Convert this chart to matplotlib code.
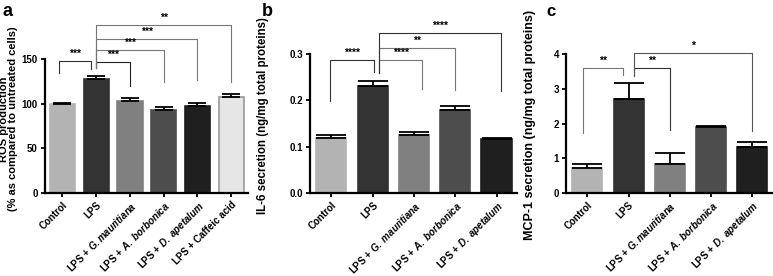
import numpy as np
import matplotlib
matplotlib.use("Agg")
import matplotlib.pyplot as plt

plt.rcParams['font.family'] = ['Liberation Sans', 'DejaVu Sans']
plt.rcParams['font.weight'] = 'bold'
plt.rcParams['mathtext.fontset'] = 'custom'
plt.rcParams['mathtext.rm'] = 'Liberation Sans:bold'
plt.rcParams['mathtext.it'] = 'Liberation Sans:bold:italic'

# --- data ---
labels_a = ["Control", "LPS", r"LPS + $\mathit{G.mauritiana}$", r"LPS + $\mathit{A.\ borbonica}$",
            r"LPS + $\mathit{D.\ apetalum}$", "LPS + Caffeic acid"]
ros_mean = [99.5, 128, 102.5, 93, 97, 107.5]
ros_err = [1.2, 2.5, 3.5, 3, 4, 3]

labels_b = ["Control", "LPS", r"LPS + $\mathit{G.\ mauritiana}$", r"LPS + $\mathit{A.\ borbonica}$",
            r"LPS + $\mathit{D.\ apetalum}$"]
il6_mean = [0.119, 0.231, 0.126, 0.180, 0.117]
il6_err = [0.005, 0.011, 0.005, 0.009, 0.002]

labels_c = ["Control", "LPS", r"LPS + $\mathit{G.mauritiana}$", r"LPS + $\mathit{A.\ borbonica}$",
            r"LPS + $\mathit{D.\ apetalum}$"]
mcp1_mean = [0.70, 2.70, 0.84, 1.89, 1.31]
mcp1_err = [0.13, 0.48, 0.31, 0.03, 0.16]

# significance: (group i, group j, stars)
sig_a = [(0, 1, "***"), (1, 2, "***"), (1, 3, "***"), (1, 4, "***"), (1, 5, "**")]
sig_b = [(0, 1, "****"), (1, 2, "****"), (1, 3, "**"), (1, 4, "****")]
sig_c = [(0, 1, "**"), (1, 2, "**"), (1, 4, "*")]

bar_colors = ["#b3b3b3", "#333333", "#808080", "#4d4d4d", "#1f1f1f", "#e6e6e6"]

# bracket geometry per panel: (y_line, drop_i, drop_j, dx_i, dx_j, color)
geo_a = [(147.5, 134.7, 138.5, -0.1, -0.15, "#333333"),
         (147, 140, 120, 0, 0, "#222222"),
         (160, 140, 124.6, 0, 0, "#777777"),
         (173, 140, 126.5, 0, 0, "#777777"),
         (188, 140, 124.6, 0, 0, "#777777")]
geo_b = [(0.287, 0.198, 0.262, -0.03, 0.02, "#333333"),
         (0.2876, 0.26, 0.2246, 0.16, 0.19, "#777777"),
         (0.3137, 0.26, 0.222, 0.16, 0.0, "#777777"),
         (0.3456, 0.26, 0.22, 0.16, 0.11, "#333333")]
geo_c = [(3.61, 1.72, 3.41, -0.1, -0.14, "#777777"),
         (3.61, 3.38, 1.82, 0.12, 0.0, "#333333"),
         (4.04, 3.38, 1.79, 0.12, 0.0, "#555555")]

fig = plt.figure(figsize=(7.73, 2.76), dpi=100)
ax_a = fig.add_axes([0.058, 0.302, 0.263, 0.484])
ax_b = fig.add_axes([0.401, 0.302, 0.268, 0.501])
ax_c = fig.add_axes([0.732, 0.302, 0.268, 0.501])


def panel(ax, labels, mean, err, sig, geo, ylim, yticks, yfmt, ylabel, capsize, width,
          label_xy, label_size):
    x = np.arange(len(mean))
    cols = bar_colors[:len(mean)]
    edges = [c if c != "#e6e6e6" else "#999999" for c in cols]
    ax.bar(x, mean, width=width, color=cols, edgecolor=edges, linewidth=1.2, zorder=2)
    ax.errorbar(x, mean, yerr=[np.zeros(len(err)), err], fmt="none", ecolor="black",
                elinewidth=1.3, capsize=capsize, capthick=1.3, zorder=3)
    ax.set_xlim(-0.52, len(mean) - 0.5)
    ax.set_ylim(*ylim)
    ax.set_yticks(yticks)
    ax.set_yticklabels([yfmt.format(t) for t in yticks], fontsize=7, fontweight="bold")
    ax.set_xticks(x)
    ax.set_xticklabels(labels, rotation=45, ha="right", rotation_mode="anchor",
                       fontsize=7, fontweight="bold")
    ax.set_ylabel(ylabel, fontsize=label_size, fontweight="bold", linespacing=0.95)
    ax.yaxis.set_label_coords(*label_xy)
    for s in ["top", "right"]:
        ax.spines[s].set_visible(False)
    for s in ["left", "bottom"]:
        ax.spines[s].set_linewidth(1.6)
    ax.tick_params(width=1.3, length=3, pad=2)
    for (i, j, stars), (yl, di, dj, dxi, dxj, c) in zip(sig, geo):
        xi, xj = i + dxi, j + dxj
        ax.plot([xi, xi, xj, xj], [di, yl, yl, dj], color=c, lw=0.8,
                clip_on=False, zorder=1)
        ax.text((xi + xj) / 2, yl + (ylim[1] - ylim[0]) * 0.015, stars,
                ha="center", va="bottom", fontsize=7.5, fontweight="bold", clip_on=False)


panel(ax_a, labels_a, ros_mean, ros_err, sig_a, geo_a, (0, 150), [0, 50, 100, 150], "{:.0f}",
      "ROS production\n(% as compared to untreated cells)", 6.5, 0.75, (-0.13, 0.55), 8.0)
panel(ax_b, labels_b, il6_mean, il6_err, sig_b, geo_b, (0, 0.3), [0.0, 0.1, 0.2, 0.3], "{:.1f}",
      "IL-6 secretion (ng/mg total proteins)", 11, 0.73, (-0.2, 0.555), 8.3)
panel(ax_c, labels_c, mcp1_mean, mcp1_err, sig_c, geo_c, (0, 4), [0, 1, 2, 3, 4], "{:.0f}",
      "MCP-1 secretion (ng/mg total proteins)", 11, 0.73, (-0.145, 0.49), 9.0)

fig.text(0.003, 0.99, "a", fontsize=13, fontweight="bold", va="top")
fig.text(0.339, 0.99, "b", fontsize=13, fontweight="bold", va="top")
fig.text(0.707, 0.985, "c", fontsize=12, fontweight="bold", va="top")

fig.savefig("out.png", dpi=100)
